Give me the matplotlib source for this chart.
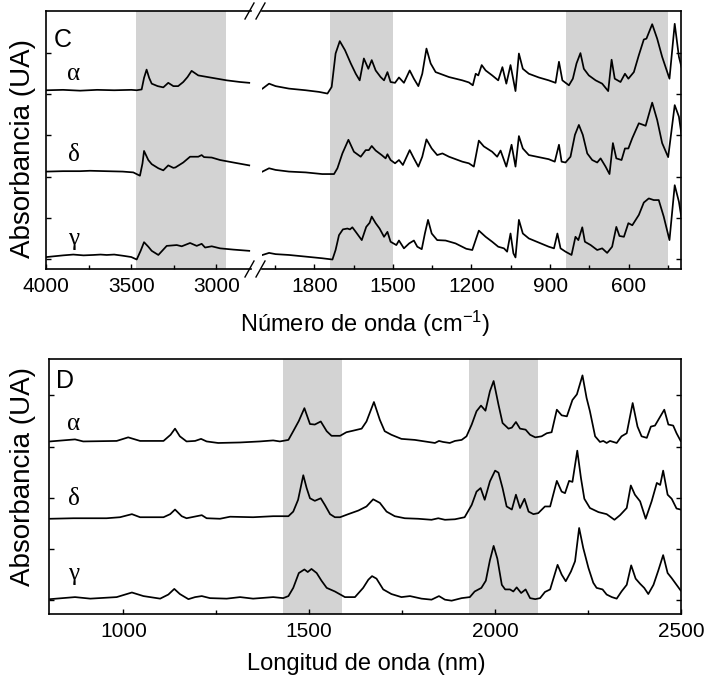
import matplotlib
matplotlib.use("Agg")
import matplotlib.pyplot as plt
from matplotlib import font_manager
from matplotlib.lines import Line2D

# ---- panel C: FTIR (wavenumber, cm-1), two segments of a broken axis ----
c_offsets = [4.33, 2.36, 0.29]          # alpha, delta, gamma
c_labels = ["\u03b1", "\u03b4", "\u03b3"]
c_shade_left = [(3470, 2945)]
c_shade_right = [(1742, 1500), (840, 450)]

c_hi_wn_alpha = [3996, 3900, 3800, 3700, 3600, 3500, 3468, 3439, 3425, 3410, 3395, 3380, 3345,
                 3312, 3283, 3253, 3225, 3195, 3170, 3146, 3107, 3038, 2940, 2862, 2808]
c_hi_alpha = [0.0, 0.01, -0.01, 0.01, 0.0, 0.01, 0.0, 0.02, 0.30, 0.50, 0.30, 0.16, 0.10,
              0.07, 0.18, 0.10, 0.10, 0.20, 0.32, 0.47, 0.36, 0.31, 0.24, 0.20, 0.18]
c_hi_wn_delta = [3996, 3900, 3800, 3742, 3650, 3550, 3488, 3449, 3434, 3425, 3400, 3380, 3341,
                 3312, 3283, 3253, 3241, 3195, 3155, 3107, 3087, 3073, 3028, 2979, 2901, 2808]
c_hi_delta = [0.0, 0.01, 0.01, 0.02, 0.01, 0.0, -0.02, -0.10, 0.20, 0.50, 0.28, 0.18, 0.08,
              0.03, 0.15, 0.09, 0.10, 0.22, 0.36, 0.36, 0.40, 0.35, 0.34, 0.28, 0.22, 0.15]
c_hi_wn_gamma = [3996, 3900, 3840, 3780, 3723, 3680, 3644, 3600, 3547, 3500, 3468, 3445, 3425,
                 3400, 3380, 3341, 3292, 3233, 3204, 3155, 3116, 3087, 3067, 3028, 2979, 2901, 2808]
c_hi_gamma = [0.0, 0.04, 0.06, 0.04, 0.05, 0.06, 0.05, 0.06, 0.03, 0.0, -0.06, 0.15, 0.36,
              0.25, 0.15, 0.05, 0.27, 0.29, 0.26, 0.34, 0.27, 0.32, 0.23, 0.26, 0.21, 0.18, 0.15]

c_lo_wn_alpha = [1998, 1973, 1948, 1897, 1833, 1782, 1750, 1734, 1719, 1703, 1683, 1661, 1642,
                 1627, 1611, 1594, 1581, 1566, 1547, 1534, 1521, 1509, 1492, 1477, 1458, 1436,
                 1420, 1403, 1388, 1372, 1356, 1337, 1286, 1235, 1210, 1195, 1184, 1174, 1161,
                 1146, 1121, 1098, 1082, 1067, 1051, 1032, 1019, 1004, 981, 943, 905, 879, 866,
                 853, 828, 813, 799, 784, 771, 752, 726, 701, 678, 665, 653, 631, 614, 601, 580,
                 561, 542, 532, 510, 491, 472, 444, 424, 408, 398]
c_lo_alpha = [0.04, 0.16, 0.10, 0.04, 0.0, -0.04, -0.08, 0.08, 0.89, 1.19, 0.97, 0.65, 0.40,
              0.24, 0.77, 0.52, 0.73, 0.48, 0.32, 0.24, 0.44, 0.20, 0.18, 0.31, 0.18, 0.48,
              0.28, 0.10, 0.40, 1.01, 0.65, 0.44, 0.32, 0.24, 0.19, 0.12, 0.40, 0.36, 0.61,
              0.48, 0.36, 0.24, 0.56, 0.16, 0.61, -0.02, 0.89, 0.52, 0.40, 0.31, 0.24, 0.18, 0.69,
              0.24, 0.12, 0.28, 0.65, 0.90, 0.52, 0.36, 0.24, 0.16, -0.02, 0.74, 0.28, 0.20, 0.40,
              0.28, 0.44, 0.85, 1.23, 1.25, 1.60, 1.25, 0.81, 0.28, 1.61, 0.81, 0.56]
c_lo_wn_delta = [1998, 1973, 1948, 1897, 1833, 1770, 1725, 1712, 1693, 1670, 1649, 1623, 1604,
                 1592, 1581, 1566, 1543, 1528, 1521, 1509, 1492, 1477, 1462, 1436, 1420, 1403,
                 1388, 1372, 1352, 1331, 1311, 1286, 1235, 1210, 1191, 1172, 1153, 1121, 1102,
                 1089, 1067, 1047, 1032, 1019, 1004, 981, 943, 905, 882, 866, 856, 841, 822, 805,
                 790, 775, 758, 739, 720, 707, 688, 673, 660, 647, 627, 614, 601, 586, 561, 535,
                 510, 491, 472, 449, 424, 408, 398]
c_lo_delta = [0.0, 0.08, 0.04, 0.0, -0.02, -0.06, -0.06, 0.08, 0.44, 0.77, 0.48, 0.36, 0.52,
              0.52, 0.62, 0.51, 0.40, 0.32, 0.42, 0.28, 0.20, 0.28, 0.16, 0.52, 0.32, 0.12,
              0.36, 0.78, 0.56, 0.40, 0.44, 0.36, 0.24, 0.20, 0.12, 0.75, 0.61, 0.48, 0.36,
              0.51, 0.12, 0.65, 0.12, 0.86, 0.56, 0.40, 0.35, 0.30, 0.24, 0.65, 0.24, 0.22, 0.36,
              0.89, 1.13, 0.89, 0.44, 0.28, 0.22, 0.32, 0.12, -0.06, 0.69, 0.32, 0.28, 0.56,
              0.56, 0.81, 1.17, 1.11, 1.67, 1.25, 0.69, 0.35, 1.61, 1.33, 0.89]
c_lo_wn_gamma = [1998, 1973, 1948, 1897, 1833, 1770, 1731, 1719, 1706, 1691, 1674, 1664, 1655,
                 1642, 1619, 1602, 1589, 1581, 1566, 1551, 1534, 1521, 1509, 1487, 1477, 1458,
                 1438, 1420, 1407, 1390, 1378, 1366, 1352, 1331, 1299, 1261, 1220, 1197, 1172,
                 1146, 1121, 1098, 1076, 1064, 1051, 1040, 1032, 1019, 1004, 981, 943, 905, 885,
                 872, 860, 841, 818, 803, 792, 777, 767, 745, 720, 701, 682, 663, 647, 635, 618,
                 601, 586, 561, 542, 523, 504, 485, 466, 444, 424, 408, 398]
c_lo_gamma = [0.05, 0.10, 0.07, 0.05, 0.01, -0.03, -0.06, 0.17, 0.53, 0.67, 0.69, 0.67, 0.72,
              0.61, 0.41, 0.73, 0.83, 0.98, 0.82, 0.69, 0.49, 0.61, 0.37, 0.29, 0.40, 0.21,
              0.33, 0.40, 0.25, 0.19, 0.57, 0.90, 0.57, 0.41, 0.40, 0.33, 0.20, 0.17, 0.64,
              0.49, 0.37, 0.25, 0.21, 0.13, 0.57, 0.09, -0.01, 0.90, 0.57, 0.45, 0.35, 0.25, 0.21,
              0.57, 0.21, 0.13, 0.05, 0.49, 0.41, 0.72, 0.37, 0.29, 0.17, 0.21, 0.10, 0.25, 0.73,
              0.51, 0.49, 0.82, 0.77, 1.02, 1.32, 1.42, 1.38, 1.38, 0.98, 0.41, 1.74, 1.34, 0.94]

# ---- panel D: NIR (wavelength, nm) ----
d_offsets = [3.37, 1.86, 0.30]
d_shades = [(1430, 1587), (1929, 2115)]

d_nm_alpha = [803, 870, 892, 982, 1013, 1045, 1108, 1127, 1139, 1152, 1170, 1193, 1209, 1224,
              1255, 1314, 1367, 1403, 1421, 1444, 1457, 1472, 1487, 1502, 1515, 1531, 1547,
              1560, 1583, 1600, 1618, 1641, 1654, 1674, 1690, 1703, 1721, 1748, 1784, 1820,
              1838, 1849, 1860, 1878, 1892, 1910, 1923, 1937, 1950, 1962, 1974, 1986, 1996,
              2009, 2020, 2036, 2045, 2056, 2067, 2082, 2094, 2108, 2125, 2139, 2152, 2166,
              2179, 2193, 2208, 2220, 2235, 2246, 2255, 2269, 2282, 2291, 2300, 2309, 2327,
              2340, 2354, 2370, 2383, 2394, 2408, 2419, 2430, 2455, 2466, 2479, 2488, 2499]
d_alpha = [0.0, 0.04, 0.0, 0.01, 0.08, 0.01, 0.01, 0.13, 0.25, 0.10, 0.0, 0.01, 0.05, 0.0,
           -0.03, -0.02, 0.0, 0.02, 0.0, 0.03, 0.20, 0.40, 0.65, 0.34, 0.33, 0.39, 0.20,
           0.11, 0.11, 0.18, 0.21, 0.25, 0.39, 0.77, 0.42, 0.20, 0.13, 0.05, 0.03, -0.01,
           -0.03, 0.01, -0.01, -0.03, 0.01, 0.03, 0.10, 0.33, 0.59, 0.70, 0.60, 0.98, 1.18,
           0.72, 0.36, 0.25, 0.27, 0.38, 0.25, 0.23, 0.13, 0.08, 0.10, 0.16, 0.18, 0.62,
           0.51, 0.49, 0.81, 0.92, 1.29, 0.85, 0.59, 0.10, -0.01, 0.01, -0.03, 0.01, -0.03,
           0.10, 0.16, 0.75, 0.29, 0.10, 0.07, 0.29, 0.31, 0.62, 0.33, 0.31, 0.16, 0.01]
d_nm_delta = [803, 866, 955, 991, 1023, 1045, 1108, 1126, 1139, 1157, 1170, 1211, 1224, 1260,
              1287, 1349, 1403, 1444, 1457, 1470, 1484, 1493, 1502, 1515, 1531, 1542, 1556,
              1569, 1583, 1605, 1632, 1654, 1672, 1690, 1708, 1730, 1757, 1793, 1829, 1847,
              1865, 1892, 1918, 1937, 1950, 1961, 1972, 1986, 2000, 2009, 2020, 2031, 2045,
              2056, 2067, 2079, 2090, 2103, 2116, 2134, 2148, 2166, 2179, 2188, 2199, 2208,
              2221, 2231, 2240, 2255, 2278, 2300, 2321, 2336, 2354, 2365, 2376, 2390, 2405,
              2421, 2435, 2444, 2452, 2464, 2475, 2488, 2499]
d_delta = [0.0, 0.01, 0.01, 0.03, 0.09, 0.03, 0.03, 0.09, 0.18, 0.05, 0.01, 0.07, 0.01, 0.0,
           0.04, 0.03, 0.05, 0.05, 0.14, 0.37, 0.85, 0.60, 0.40, 0.35, 0.40, 0.27, 0.09,
           0.03, 0.03, 0.09, 0.16, 0.24, 0.38, 0.31, 0.14, 0.05, 0.01, 0.0, -0.02, 0.01,
           -0.02, -0.01, 0.03, 0.27, 0.53, 0.60, 0.37, 0.73, 0.94, 0.90, 0.60, 0.24, 0.18,
           0.47, 0.21, 0.39, 0.14, 0.09, 0.11, 0.24, 0.24, 0.74, 0.53, 0.50, 0.74, 0.72,
           1.33, 0.79, 0.39, 0.21, 0.13, 0.09, -0.02, 0.07, 0.21, 0.65, 0.47, 0.34, 0.0,
           0.34, 0.70, 0.66, 0.94, 0.47, 0.39, 0.20, 0.18]
d_nm_gamma = [803, 870, 911, 982, 1023, 1054, 1099, 1121, 1137, 1152, 1175, 1193, 1211, 1233,
              1278, 1314, 1349, 1403, 1430, 1444, 1457, 1472, 1487, 1496, 1506, 1520, 1533,
              1547, 1569, 1596, 1623, 1645, 1659, 1669, 1681, 1699, 1721, 1748, 1771, 1802,
              1829, 1849, 1865, 1883, 1910, 1932, 1945, 1963, 1975, 1986, 1996, 2006, 2018,
              2027, 2040, 2049, 2058, 2070, 2082, 2094, 2108, 2121, 2134, 2148, 2168, 2179,
              2190, 2204, 2215, 2226, 2237, 2251, 2264, 2273, 2289, 2300, 2314, 2327, 2340,
              2354, 2366, 2378, 2390, 2401, 2412, 2426, 2439, 2452, 2464, 2475, 2488, 2499]
d_gamma = [-0.01, 0.03, 0.0, 0.03, 0.12, 0.05, 0.0, 0.08, 0.19, 0.09, -0.01, 0.03, 0.05, 0.01,
           0.0, 0.03, 0.0, 0.03, 0.01, 0.05, 0.21, 0.50, 0.57, 0.52, 0.58, 0.50, 0.35,
           0.21, 0.14, 0.03, 0.03, 0.21, 0.37, 0.44, 0.39, 0.18, 0.09, 0.03, 0.05, 0.0,
           -0.02, 0.05, -0.02, -0.04, 0.01, 0.03, 0.14, 0.21, 0.35, 0.75, 1.03, 0.78, 0.27,
           0.18, 0.18, 0.14, 0.22, 0.11, 0.18, 0.01, -0.01, 0.01, 0.13, 0.18, 0.66, 0.47,
           0.34, 0.53, 0.73, 1.38, 0.99, 0.60, 0.31, 0.21, 0.18, 0.08, 0.03, 0.0, 0.14,
           0.27, 0.65, 0.39, 0.29, 0.21, 0.09, 0.27, 0.55, 0.85, 0.50, 0.40, 0.27, 0.16]

c_hi_ticks = [4000, 3500, 3000]
c_hi_minor = [3750, 3250]
c_lo_ticks = [1800, 1500, 1200, 900, 600]
c_lo_minor = [1950, 1650, 1350, 1050, 750, 450]
d_ticks = [1000, 1500, 2000, 2500]
d_minor = [1250, 1750, 2250]
c_yticks = [0.24, 1.24, 2.24, 3.24, 4.24, 5.24]
d_yticks = [0.27, 1.27, 2.27, 3.27, 4.27]


def pick_font(names):
    for name in names:
        try:
            font_manager.findfont(font_manager.FontProperties(family=name),
                                  fallback_to_default=False)
            return name
        except ValueError:
            pass
    return "DejaVu Sans"


narrow = pick_font(["Liberation Sans Narrow"])
if narrow == "DejaVu Sans":
    sans, tick_size = pick_font(["Liberation Sans", "Arial"]), 15
else:
    sans, tick_size = narrow, 16
wide = pick_font(["Liberation Sans", "Arial"])
serif = pick_font(["Liberation Serif", "DejaVu Serif"])

plt.rcParams["font.family"] = sans
plt.rcParams["mathtext.default"] = "regular"

W, H = 705, 677
fig = plt.figure(figsize=(W / 100, H / 100), dpi=100)


def box(x0, y0, x1, y1):
    # pixel box (top-left origin) -> figure fraction rect
    return [x0 / W, 1 - y1 / H, (x1 - x0) / W, (y1 - y0) / H]


def fpos(x, y):
    return x / W, 1 - y / H


ax1 = fig.add_axes(box(46, 11, 250.6, 269))
ax2 = fig.add_axes(box(262, 11, 681, 269))
ax3 = fig.add_axes(box(49, 359, 681, 614))

line_kw = dict(color="black", lw=1.25)
shade = "#d3d3d3"

for a, b in c_shade_left:
    ax1.axvspan(a, b, color=shade, lw=0, zorder=0)
for a, b in c_shade_right:
    ax2.axvspan(a, b, color=shade, lw=0, zorder=0)
for a, b in d_shades:
    ax3.axvspan(a, b, color=shade, lw=0, zorder=0)

c_hi = [(c_hi_wn_alpha, c_hi_alpha), (c_hi_wn_delta, c_hi_delta), (c_hi_wn_gamma, c_hi_gamma)]
c_lo = [(c_lo_wn_alpha, c_lo_alpha), (c_lo_wn_delta, c_lo_delta), (c_lo_wn_gamma, c_lo_gamma)]
d_all = [(d_nm_alpha, d_alpha), (d_nm_delta, d_delta), (d_nm_gamma, d_gamma)]

for off, (x, y) in zip(c_offsets, c_hi):
    ax1.plot(x, [v + off for v in y], **line_kw)
for off, (x, y) in zip(c_offsets, c_lo):
    ax2.plot(x, [v + off for v in y], **line_kw)
for off, (x, y) in zip(d_offsets, d_all):
    ax3.plot(x, [v + off for v in y], **line_kw)

ax1.set_xlim(4000, 2800)
ax2.set_xlim(2000, 400)
ax3.set_xlim(800, 2500)
for ax in (ax1, ax2):
    ax.set_ylim(0, 6.25)
    ax.set_yticks(c_yticks)
ax3.set_ylim(0, 4.98)
ax3.set_yticks(d_yticks)

ax1.set_xticks(c_hi_ticks)
ax1.set_xticks(c_hi_minor, minor=True)
ax2.set_xticks(c_lo_ticks)
ax2.set_xticks(c_lo_minor, minor=True)
ax3.set_xticks(d_ticks)
ax3.set_xticks(d_minor, minor=True)

for ax in (ax1, ax2, ax3):
    ax.set_yticklabels([])
    ax.tick_params(which="both", direction="in", width=1.0, labelsize=tick_size, pad=6)
    ax.tick_params(which="major", length=3.5)
    ax.tick_params(which="minor", length=3.0)
    for sp in ax.spines.values():
        sp.set_linewidth(1.2)

ax1.spines["right"].set_visible(False)
ax1.tick_params(axis="y", which="both", left=True, right=False)
ax2.spines["left"].set_visible(False)
ax2.tick_params(axis="y", which="both", left=False, right=True)
ax3.tick_params(axis="y", which="both", left=True, right=True)

# break marks "//" on top and bottom spines
for ysp in (11, 269):
    for x0 in (245, 256):
        (xa, ya), (xb, yb) = fpos(x0, ysp + 8), fpos(x0 + 9, ysp - 8)
        fig.add_artist(Line2D([xa, xb], [ya, yb], color="black", lw=1.0))

# panel letters and series labels
fig.text(*fpos(54, 47), "C", fontsize=18, ha="left", va="baseline")
fig.text(*fpos(56, 388), "D", fontsize=18, ha="left", va="baseline")
for lab, yb in zip(c_labels, [80, 161, 245]):
    fig.text(*fpos(74, yb), lab, family=serif, fontsize=18, ha="center", va="baseline")
for lab, yb in zip(c_labels, [430, 505, 580]):
    fig.text(*fpos(74, yb), lab, family=serif, fontsize=18, ha="center", va="baseline")

# axis titles
fig.text(*fpos(365, 332), "N\u00famero de onda (cm$^{-1}$)", fontsize=17,
         ha="center", va="baseline")
fig.text(*fpos(366, 670), "Longitud de onda (nm)", fontsize=17, ha="center", va="baseline")
fig.text(*fpos(23, 149), "Absorbancia (UA)", family=wide, fontsize=20, rotation=90,
         ha="center", va="center")
fig.text(*fpos(23, 476), "Absorbancia (UA)", family=wide, fontsize=20, rotation=90,
         ha="center", va="center")

fig.savefig("out.png", dpi=100)
